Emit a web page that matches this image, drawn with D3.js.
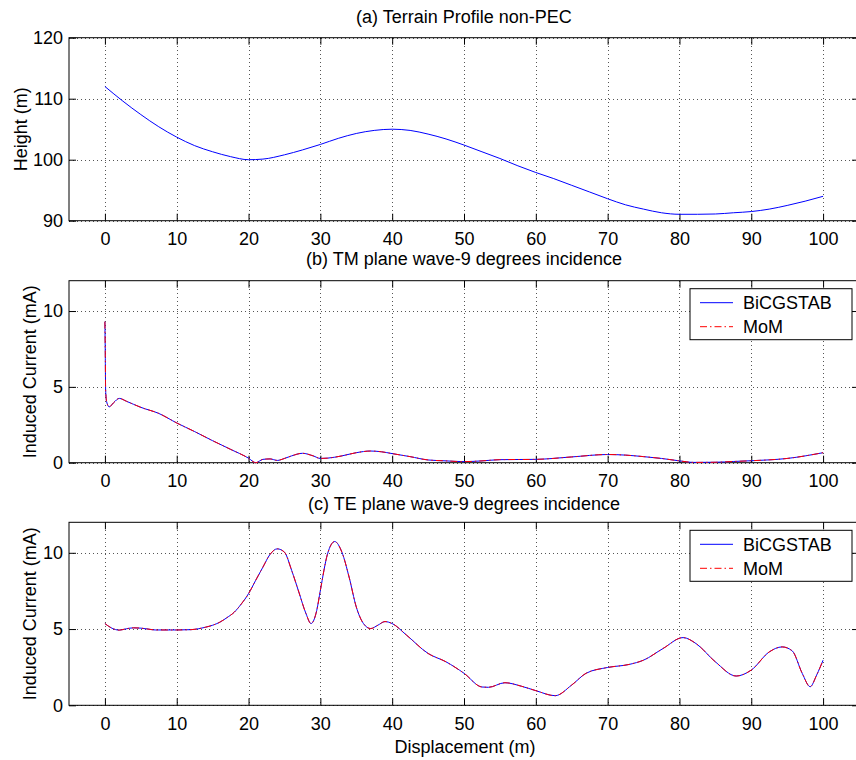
<!DOCTYPE html>
<html>
<head>
<meta charset="utf-8">
<script src="https://cdn.jsdelivr.net/npm/d3@7/dist/d3.min.js"></script>
<style>
  html, body { margin: 0; padding: 0; background: #fff; }
  svg { display: block; }
  text { font-family: "Liberation Sans", Arial, Helvetica, sans-serif; fill: #000; }
</style>
</head>
<body>
<svg id="chart" width="856" height="760"></svg>
<script>
// ---- data -------------------------------------------------------------
const xTicks = [0, 10, 20, 30, 40, 50, 60, 70, 80, 90, 100];

// (a) terrain height profile
const terrainX = [0, 2.5, 5, 7.5, 10, 12.5, 15, 17.5, 20, 22, 25, 27.5, 30, 32.5, 35, 37.5, 40, 42.5, 45, 47.5, 50, 52.5, 55, 57.5, 60, 62.5, 65, 67.5, 70, 72.5, 75, 77.5, 80, 82.5, 85, 87.5, 90, 92.5, 95, 97.5, 100];
const terrainH = [112.0, 109.6, 107.4, 105.4, 103.7, 102.3, 101.3, 100.5, 100.0, 100.1, 100.8, 101.6, 102.5, 103.5, 104.3, 104.8, 105.0, 104.8, 104.2, 103.4, 102.4, 101.3, 100.2, 99.0, 97.9, 96.9, 95.8, 94.7, 93.6, 92.6, 91.9, 91.3, 91.05, 91.05, 91.1, 91.3, 91.5, 91.9, 92.5, 93.2, 94.0];
const terrainTicks = [90, 100, 110, 120];

// (b) TM incidence: induced current
const tmX = [0, 0.05, 0.1, 0.25, 0.6, 1.2, 2.0, 3.0, 5.0, 7.5, 10, 12.5, 15, 17.5, 20, 21, 22, 23, 24, 25, 26, 27.5, 29, 30, 31, 33, 35, 37, 38.5, 40, 42.5, 45, 47.5, 50, 52.5, 55, 60, 65, 70, 72.5, 75, 77.5, 80, 82, 85, 87.5, 90, 95, 100];
const tmBiCGSTAB = [9.3, 7.2, 4.8, 4.0, 3.68, 3.95, 4.24, 4.05, 3.65, 3.25, 2.62, 2.05, 1.45, 0.88, 0.3, 0.0, 0.22, 0.25, 0.15, 0.28, 0.45, 0.62, 0.45, 0.28, 0.3, 0.45, 0.66, 0.77, 0.72, 0.6, 0.4, 0.18, 0.12, 0.07, 0.12, 0.2, 0.22, 0.38, 0.54, 0.5, 0.4, 0.28, 0.12, 0.02, 0.03, 0.08, 0.13, 0.28, 0.66];
const tmMoM       = [9.3, 7.2, 4.8, 4.0, 3.68, 3.95, 4.24, 4.05, 3.65, 3.25, 2.62, 2.05, 1.45, 0.88, 0.3, 0.0, 0.22, 0.25, 0.15, 0.28, 0.45, 0.62, 0.45, 0.28, 0.3, 0.45, 0.66, 0.77, 0.72, 0.6, 0.4, 0.18, 0.12, 0.07, 0.12, 0.2, 0.22, 0.38, 0.54, 0.5, 0.4, 0.28, 0.12, 0.02, 0.03, 0.08, 0.13, 0.28, 0.66];

// (c) TE incidence: induced current
const teX = [0, 1, 2, 3, 4, 5, 6, 7, 10, 12, 14, 15, 16, 17, 18, 19, 20, 21, 22, 23, 24, 25, 26, 27, 28, 28.7, 29.5, 30, 31, 32, 33, 34, 35, 36, 37, 38, 39, 40, 42, 45, 47.5, 50, 52.5, 53.4, 55.7, 58, 60, 62.7, 65, 67, 70, 73, 75, 77.7, 80.5, 82.3, 85, 87.9, 90, 92.5, 94.3, 95.7, 97.1, 98.2, 99.1, 100];
const teBiCGSTAB = [5.36, 5.05, 4.93, 5.02, 5.08, 5.06, 5.0, 4.94, 4.94, 4.96, 5.12, 5.25, 5.45, 5.75, 6.1, 6.65, 7.32, 8.2, 9.06, 9.9, 10.26, 10.04, 8.85, 7.43, 6.01, 5.36, 6.23, 7.54, 9.93, 10.74, 10.04, 8.41, 6.45, 5.36, 5.03, 5.25, 5.49, 5.36, 4.6, 3.4, 2.85, 2.1, 1.2, 1.18, 1.48, 1.25, 0.96, 0.63, 1.33, 2.1, 2.48, 2.68, 2.96, 3.72, 4.44, 4.05, 2.85, 1.92, 2.31, 3.5, 3.83, 3.57, 2.09, 1.22, 1.98, 2.96];
const teMoM       = [5.36, 5.05, 4.93, 5.02, 5.08, 5.06, 5.0, 4.94, 4.94, 4.96, 5.12, 5.25, 5.45, 5.75, 6.1, 6.65, 7.32, 8.2, 9.06, 9.9, 10.26, 10.04, 8.85, 7.43, 6.01, 5.36, 6.23, 7.54, 9.93, 10.74, 10.04, 8.41, 6.45, 5.36, 5.03, 5.25, 5.49, 5.36, 4.6, 3.4, 2.85, 2.1, 1.2, 1.18, 1.48, 1.25, 0.96, 0.63, 1.33, 2.1, 2.48, 2.68, 2.96, 3.72, 4.44, 4.05, 2.85, 1.92, 2.31, 3.5, 3.83, 3.57, 2.09, 1.22, 1.98, 2.96];
const currentTicks = [0, 5, 10];

const seriesNames = ["BiCGSTAB", "MoM"];

// ---- layout -----------------------------------------------------------
const svg = d3.select("#chart");
const FONT = 18;
const TICK = 7;
const x = d3.scaleLinear().domain([-5, 105]).range([69, 859]);

const panels = [
  { title: "(a) Terrain Profile non-PEC", titleY: 22.7, top: 37.7, bottom: 220.7,
    domain: [90, 120], ticks: terrainTicks, ylabel: "Height (m)", ylabelX: 27,
    series: [{ xs: terrainX, ys: terrainH, style: "solid" }], legend: false },
  { title: "(b) TM plane wave-9 degrees incidence", titleY: 265, top: 280.7, bottom: 462.7,
    domain: [0, 12], ticks: currentTicks, ylabel: "Induced Current (mA)", ylabelX: 35.7,
    series: [{ xs: tmX, ys: tmBiCGSTAB, style: "solid" }, { xs: tmX, ys: tmMoM, style: "dashdot" }], legend: true },
  { title: "(c) TE plane wave-9 degrees incidence", titleY: 509.5, top: 522.3, bottom: 705.3,
    domain: [0, 12], ticks: currentTicks, ylabel: "Induced Current (mA)", ylabelX: 35.7,
    series: [{ xs: teX, ys: teBiCGSTAB, style: "solid" }, { xs: teX, ys: teMoM, style: "dashdot" }], legend: true }
];

const styles = {
  solid:   { stroke: "#0000ff", dash: null },
  dashdot: { stroke: "#ff0000", dash: "7,3,1.5,3" }
};

panels.forEach(p => {
  const y = d3.scaleLinear().domain(p.domain).range([p.bottom, p.top]);
  const g = svg.append("g");
  const [x0, x1] = x.range();

  // dotted grid
  const grid = g.append("g").attr("stroke", "#555").attr("stroke-width", 1)
    .attr("stroke-dasharray", "1,3").attr("shape-rendering", "crispEdges");
  grid.selectAll("line.vx").data(xTicks).join("line").attr("class", "vx")
    .attr("x1", d => Math.round(x(d)) + 0.5).attr("x2", d => Math.round(x(d)) + 0.5)
    .attr("y1", p.top).attr("y2", p.bottom);
  grid.selectAll("line.hy").data(p.ticks).join("line").attr("class", "hy")
    .attr("x1", x0).attr("x2", x1)
    .attr("y1", d => Math.round(y(d)) + 0.5).attr("y2", d => Math.round(y(d)) + 0.5);

  // inward-pointing axes on all four sides
  const axB = g.append("g").attr("transform", `translate(0,${p.bottom})`)
    .call(d3.axisBottom(x).tickValues(xTicks).tickSizeInner(-TICK).tickSizeOuter(0).tickPadding(11.5));
  const axT = g.append("g").attr("transform", `translate(0,${p.top})`)
    .call(d3.axisTop(x).tickValues(xTicks).tickSizeInner(-TICK).tickSizeOuter(0).tickFormat(""));
  const axL = g.append("g").attr("transform", `translate(${x0},0)`)
    .call(d3.axisLeft(y).tickValues(p.ticks).tickSizeInner(-TICK).tickSizeOuter(0).tickPadding(6));
  const axR = g.append("g").attr("transform", `translate(${x1},0)`)
    .call(d3.axisRight(y).tickValues(p.ticks).tickSizeInner(-TICK).tickSizeOuter(0).tickFormat(""));
  [axB, axT, axL, axR].forEach(a => {
    a.select(".domain").remove();
    a.selectAll(".tick line").attr("stroke", "#000");
    a.selectAll("text").attr("font-size", FONT).attr("font-family", null).attr("fill", "#000");
  });
  g.selectAll(".tick text").style("font-family", '"Liberation Sans", Arial, sans-serif');

  // axes box
  g.append("rect").attr("x", x0).attr("y", p.top)
    .attr("width", x1 - x0).attr("height", p.bottom - p.top)
    .attr("fill", "none").attr("stroke", "#000").attr("stroke-width", 1);

  // curves
  p.series.forEach(s => {
    const pts = s.xs.map((xv, i) => [xv, s.ys[i]]);
    const line = d3.line().x(d => x(d[0])).y(d => y(d[1])).curve(d3.curveMonotoneX);
    g.append("path").datum(pts).attr("d", line)
      .attr("fill", "none").attr("stroke", styles[s.style].stroke)
      .attr("stroke-width", 1).attr("stroke-dasharray", styles[s.style].dash);
  });

  // title
  svg.append("text").attr("x", (x0 + x1) / 2).attr("y", p.titleY)
    .attr("text-anchor", "middle").attr("font-size", FONT).text(p.title);

  // y-axis label
  svg.append("text")
    .attr("transform", `translate(${p.ylabelX},${(p.top + p.bottom) / 2}) rotate(-90)`)
    .attr("text-anchor", "middle").attr("font-size", FONT).text(p.ylabel);

  // legend
  if (p.legend) {
    const lg = g.append("g").attr("transform", `translate(690,${p.top + 8})`);
    lg.append("rect").attr("x", 0).attr("y", 0).attr("width", 162).attr("height", 51)
      .attr("fill", "#fff").attr("stroke", "#000").attr("stroke-width", 1);
    p.series.forEach((s, i) => {
      const ly = 14 + i * 24;
      lg.append("line").attr("x1", 10).attr("x2", 43).attr("y1", ly).attr("y2", ly)
        .attr("stroke", styles[s.style].stroke).attr("stroke-width", 1)
        .attr("stroke-dasharray", styles[s.style].dash);
      lg.append("text").attr("x", 53).attr("y", ly + 6.5)
        .attr("font-size", FONT).text(seriesNames[i]);
    });
  }
});

// shared x-axis label
svg.append("text").attr("x", 465).attr("y", 753)
  .attr("text-anchor", "middle").attr("font-size", FONT).text("Displacement (m)");
</script>
</body>
</html>
